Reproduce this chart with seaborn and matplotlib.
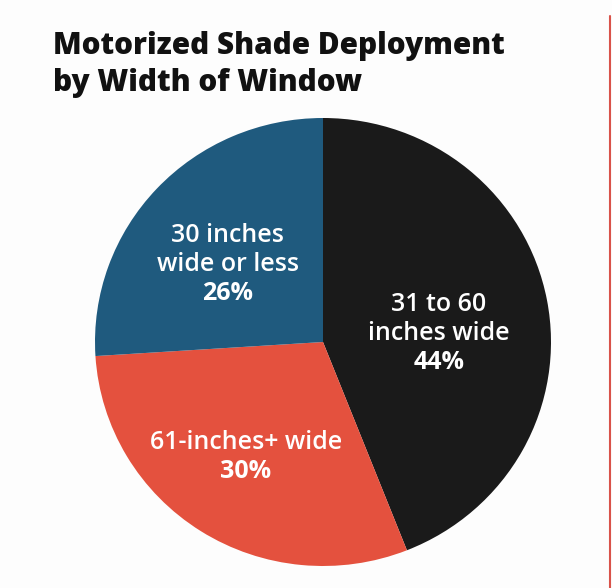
import matplotlib
matplotlib.use("Agg")
import matplotlib.pyplot as plt
import seaborn as sns

categories = ["31 to 60\ninches wide", "61-inches+ wide", "30 inches\nwide or less"]
values = [44, 30, 26]
pct_labels = ["44%", "30%", "26%"]
colors = ["#1a1a1a", "#e4513e", "#1f5a7e"]
title = "Motorized Shade Deployment\nby Width of Window"

# label block centres (axes data units, pie radius = 1)
label_pos = [(0.509, 0.049), (-0.338, -0.504), (-0.417, 0.357)]

sns.set_theme(style="white")
plt.rcParams['font.family'] = ['Open Sans', 'DejaVu Sans']

fig = plt.figure(figsize=(6.12, 5.88), dpi=100)
fig.patch.set_facecolor("#fdfdfd")
cx, cy, w, h = 323 / 612, 1 - 342 / 588, 456 / 612, 448 / 588
ax = fig.add_axes([cx - w / 2, cy - h / 2, w, h])
wedges, _ = ax.pie(values, colors=colors, startangle=90, counterclock=False,
                   wedgeprops=dict(linewidth=0))
ax.set_xlim(-1, 1); ax.set_ylim(-1, 1)
ax.set_aspect('auto')
ax.axis('off')

LS = 29   # line step in px
CAP = 18  # cap height in px
for cat, pct, (x, y) in zip(categories, pct_labels, label_pos):
    lines = cat.split("\n") + [pct]
    n = len(lines)
    b0 = -(LS * (n - 1) - CAP) / 2  # first baseline relative to centre (px, downward)
    for i, line in enumerate(lines):
        off = -(b0 + LS * i)
        ax.annotate(line, (x, y), xytext=(0, off), textcoords="offset pixels",
                    ha="center", va="baseline", color="white", fontsize=18,
                    fontweight="bold" if i == n - 1 else "semibold")

for line, base in zip(title.split("\n"), [54, 91]):
    fig.text(53 / 612, 1 - base / 588, line, ha="left", va="baseline",
             fontsize=21.4, fontweight="heavy", color="#111111")

fig.add_artist(plt.Line2D([610 / 612, 610 / 612], [0, 1 - 16 / 588],
                          color="#d9534a", linewidth=1.5, transform=fig.transFigure))

fig.savefig("out.png", dpi=100, facecolor=fig.get_facecolor())
